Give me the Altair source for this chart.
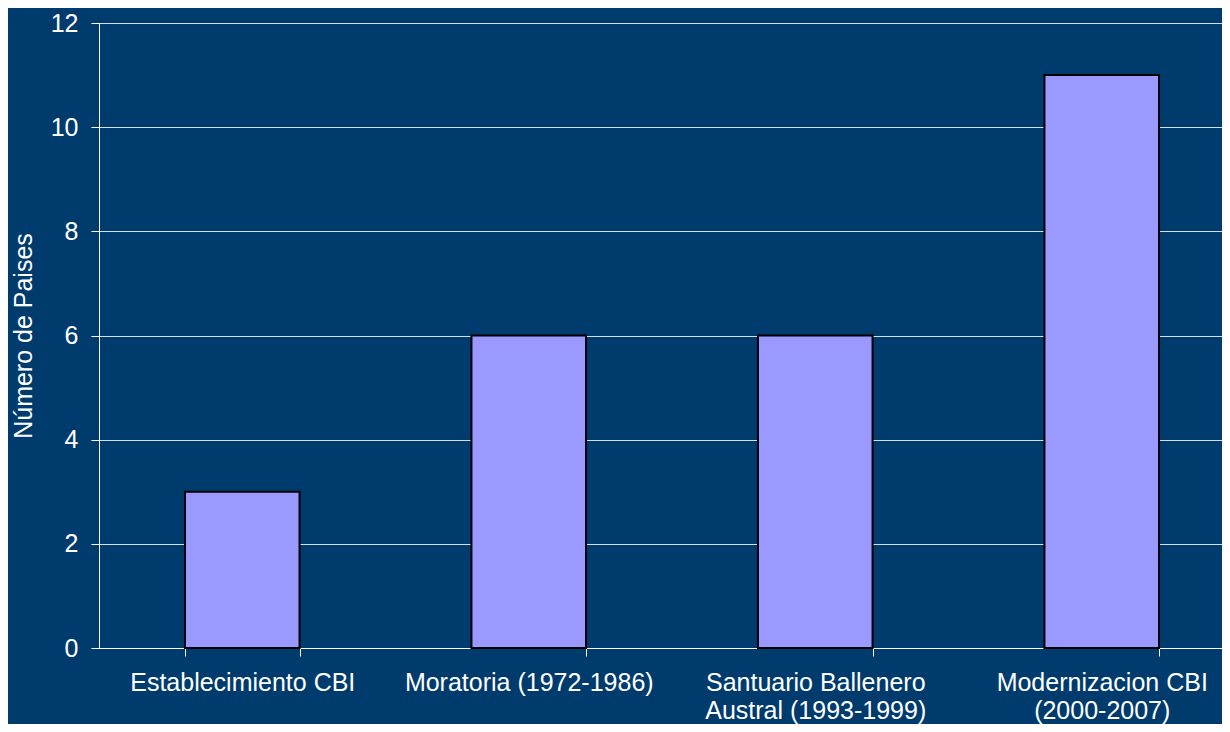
import altair as alt
import pandas as pd

categories = ["Establecimiento CBI", "Moratoria (1972-1986)",
              "Santuario Ballenero|Austral (1993-1999)", "Modernizacion CBI|(2000-2007)"]
values = [3, 6, 6, 11]
y_ticks = [0, 2, 4, 6, 8, 10, 12]

df = pd.DataFrame({"cat": categories, "n": values})

FONT = "Liberation Sans"
BG = "#003B6E"

chart = alt.Chart(df).mark_bar(
    color="#9999FF", stroke="#000000", strokeWidth=2
).encode(
    x=alt.X("cat:N", sort=categories, title=None,
            scale=alt.Scale(paddingInner=0.6, paddingOuter=0.3, range=[0, 1146]),
            axis=alt.Axis(labelExpr="split(datum.label, '|')", labelAngle=0,
                          tickBand="extent", tickSize=8, tickColor="#FFFFFF",
                          domainColor="#FFFFFF", labelColor="#FFFFFF",
                          labelFontSize=25, labelFont=FONT, labelPadding=14,
                          labelLimit=400, labelOverlap=False,
                          labelLineHeight=28, labelBaseline="top", grid=False)),
    y=alt.Y("n:Q", title="Número de Paises",
            scale=alt.Scale(domain=[0, 12], nice=False),
            axis=alt.Axis(values=y_ticks, tickSize=8, tickColor="#FFFFFF",
                          domainColor="#FFFFFF", labelColor="#FFFFFF",
                          labelFontSize=25, labelFont=FONT, labelPadding=13,
                          titleColor="#FFFFFF", titleFontSize=25, titleFont=FONT,
                          titleFontWeight="normal", titlePadding=14,
                          grid=True, gridColor="#D8DEE8", gridWidth=1)),
).properties(
    width=1123, height=625, background=BG,
    padding={"left": 91, "top": 15, "right": 0, "bottom": 76},
    autosize=alt.AutoSizeParams(type="none"),
).configure_view(stroke=None)

chart.save("out.html", embed_options={"renderer": "svg", "actions": False})
